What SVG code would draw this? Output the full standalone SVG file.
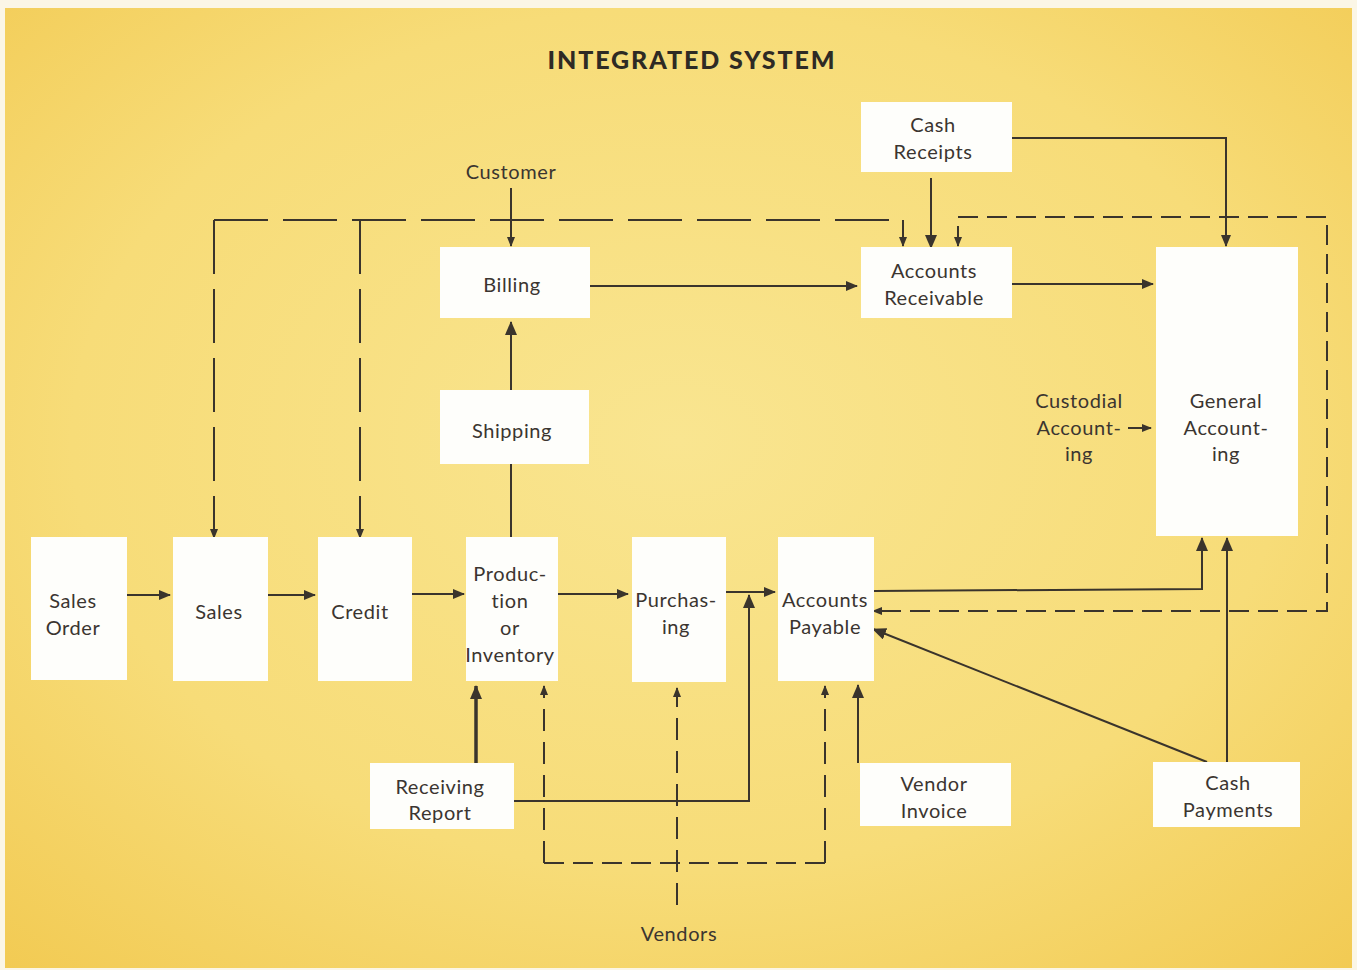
<svg xmlns="http://www.w3.org/2000/svg" width="1357" height="970" viewBox="0 0 1357 970">
  <defs>
    <radialGradient id="paper" cx="0.5" cy="0.45" r="0.75">
      <stop offset="0" stop-color="#f9e590"/>
      <stop offset="0.6" stop-color="#f7dc78"/>
      <stop offset="1" stop-color="#f2ca52"/>
    </radialGradient>
    <marker id="ah" viewBox="0 0 12 10" refX="11" refY="5" markerWidth="12" markerHeight="10" markerUnits="userSpaceOnUse" orient="auto">
      <path d="M0,0 L12,5 L0,10 Z" fill="#3a342c"/>
    </marker>
    <marker id="ahs" viewBox="0 0 10 8" refX="9" refY="4" markerWidth="10" markerHeight="8" markerUnits="userSpaceOnUse" orient="auto">
      <path d="M0,0 L10,4 L0,8 Z" fill="#3a342c"/>
    </marker>
    <marker id="ahb" viewBox="0 0 14 12" refX="13" refY="6" markerWidth="14" markerHeight="12" markerUnits="userSpaceOnUse" orient="auto">
      <path d="M0,0 L14,6 L0,12 Z" fill="#3a342c"/>
    </marker>
  </defs>
  <style>
    .box { fill: #fefefb; }
    .lbl { font-family: Lato, "Liberation Sans", sans-serif; font-size: 20px; fill: #3b3530; text-anchor: middle; letter-spacing: 0.6px; }
    .title { font-family: Lato, "Liberation Sans", sans-serif; font-weight: 900; font-size: 25px; fill: #2e2a24; text-anchor: middle; }
    .ln { fill: none; stroke: #3a342c; stroke-width: 2; }
    .thick { stroke-width: 3.5; }
    .dl { stroke-dasharray: 54 15; }
    .ds { stroke-dasharray: 20 9; }
    .dv { stroke-dasharray: 22 11; }
  </style>

  <!-- paper -->
  <rect x="0" y="0" width="1357" height="970" fill="#fbf6e6"/>
  <rect x="5" y="8" width="1347" height="960" fill="url(#paper)"/>

  <text class="title" x="691" y="69" textLength="287" lengthAdjust="spacing">INTEGRATED SYSTEM</text>

  <!-- connectors -->
  <g id="connectors">
    <!-- solid flows -->
    <path class="ln" d="M511,188 V246" marker-end="url(#ahs)" stroke-width="1.6"/>
    <path class="ln" d="M511,537 V464"/>
    <path class="ln" d="M511,390 V322" marker-end="url(#ahb)"/>
    <path class="ln" d="M586,286 H857" marker-end="url(#ah)"/>
    <path class="ln" d="M931,178 V248" marker-end="url(#ahb)"/>
    <path class="ln" d="M1010,138 H1226 V246" marker-end="url(#ah)"/>
    <path class="ln" d="M1010,284 H1153" marker-end="url(#ah)"/>
    <path class="ln" d="M1128,428 H1151" marker-end="url(#ahs)"/>
    <path class="ln" d="M127,595 H170" marker-end="url(#ah)"/>
    <path class="ln" d="M268,595 H315" marker-end="url(#ah)"/>
    <path class="ln" d="M412,594 H464" marker-end="url(#ah)"/>
    <path class="ln" d="M558,594 H628" marker-end="url(#ah)"/>
    <path class="ln" d="M726,592 H775" marker-end="url(#ah)"/>
    <path class="ln" d="M512,801 H749 V595" marker-end="url(#ahb)"/>
    <path class="ln thick" d="M476,765 V686" marker-end="url(#ahb)"/>
    <path class="ln" d="M858,763 V685" marker-end="url(#ahb)"/>
    <path class="ln" d="M874,591 L1202,589 V538" marker-end="url(#ahb)"/>
    <path class="ln" d="M1227,762 V538" marker-end="url(#ahb)"/>
    <path class="ln" d="M1207,762 L873,629" marker-end="url(#ahb)"/>

    <!-- dashed flows: Accounts Receivable to Sales and Credit -->
    <path class="ln dl" d="M214,220 H903"/>
    <path class="ln" d="M903,220 V246" marker-end="url(#ahs)"/>
    <path class="ln dl" d="M214,220 V538" marker-end="url(#ahs)"/>
    <path class="ln dl" d="M360,220 V538" marker-end="url(#ahs)"/>

    <!-- dashed loop: Accounts Payable to Accounts Receivable -->
    <path class="ln ds" d="M958,246 V217 H1327 V611 H873" marker-end="url(#ahs)"/>
    <path class="ln" d="M958,228 V246" marker-end="url(#ahs)"/>

    <!-- dashed flows from Vendors -->
    <path class="ln dv" d="M677,905 V688" marker-end="url(#ahs)"/>
    <path class="ln ds" d="M544,863 H825"/>
    <path class="ln dv" d="M544,863 V686" marker-end="url(#ahs)"/>
    <path class="ln dv" d="M825,863 V686" marker-end="url(#ahs)"/>
  </g>

  <!-- nodes -->
  <g id="cash-receipts">
    <rect class="box" x="861" y="102" width="151" height="70"/>
    <text class="lbl" x="933" y="132">Cash</text>
    <text class="lbl" x="933" y="159">Receipts</text>
  </g>
  <g id="billing">
    <rect class="box" x="440" y="247" width="150" height="71"/>
    <text class="lbl" x="512" y="292">Billing</text>
  </g>
  <g id="accounts-receivable">
    <rect class="box" x="861" y="247" width="151" height="71"/>
    <text class="lbl" x="934" y="278">Accounts</text>
    <text class="lbl" x="934" y="305">Receivable</text>
  </g>
  <g id="general-accounting">
    <rect class="box" x="1156" y="247" width="142" height="289"/>
    <text class="lbl" x="1226" y="408">General</text>
    <text class="lbl" x="1226" y="435">Account-</text>
    <text class="lbl" x="1226" y="461">ing</text>
  </g>
  <g id="shipping">
    <rect class="box" x="440" y="390" width="149" height="74"/>
    <text class="lbl" x="512" y="438">Shipping</text>
  </g>
  <g id="sales-order">
    <rect class="box" x="31" y="537" width="96" height="143"/>
    <text class="lbl" x="73" y="608">Sales</text>
    <text class="lbl" x="73" y="635">Order</text>
  </g>
  <g id="sales">
    <rect class="box" x="173" y="537" width="95" height="144"/>
    <text class="lbl" x="219" y="619">Sales</text>
  </g>
  <g id="credit">
    <rect class="box" x="318" y="537" width="94" height="144"/>
    <text class="lbl" x="360" y="619">Credit</text>
  </g>
  <g id="production-inventory">
    <rect class="box" x="466" y="537" width="92" height="144"/>
    <text class="lbl" x="510" y="581">Produc-</text>
    <text class="lbl" x="510" y="608">tion</text>
    <text class="lbl" x="510" y="635">or</text>
    <text class="lbl" x="510" y="662">Inventory</text>
  </g>
  <g id="purchasing">
    <rect class="box" x="632" y="537" width="94" height="145"/>
    <text class="lbl" x="676" y="607">Purchas-</text>
    <text class="lbl" x="676" y="634">ing</text>
  </g>
  <g id="accounts-payable">
    <rect class="box" x="778" y="537" width="96" height="144"/>
    <text class="lbl" x="825" y="607">Accounts</text>
    <text class="lbl" x="825" y="634">Payable</text>
  </g>
  <g id="receiving-report">
    <rect class="box" x="370" y="763" width="144" height="66"/>
    <text class="lbl" x="440" y="794">Receiving</text>
    <text class="lbl" x="440" y="820">Report</text>
  </g>
  <g id="vendor-invoice">
    <rect class="box" x="860" y="763" width="151" height="63"/>
    <text class="lbl" x="934" y="791">Vendor</text>
    <text class="lbl" x="934" y="818">Invoice</text>
  </g>
  <g id="cash-payments">
    <rect class="box" x="1153" y="762" width="147" height="65"/>
    <text class="lbl" x="1228" y="790">Cash</text>
    <text class="lbl" x="1228" y="817">Payments</text>
  </g>

  <!-- free labels -->
  <g id="customer">
    <text class="lbl" x="511" y="179">Customer</text>
  </g>
  <g id="custodial-accounting">
    <text class="lbl" x="1079" y="408">Custodial</text>
    <text class="lbl" x="1079" y="435">Account-</text>
    <text class="lbl" x="1079" y="461">ing</text>
  </g>
  <g id="vendors">
    <text class="lbl" x="679" y="941">Vendors</text>
  </g>
</svg>
